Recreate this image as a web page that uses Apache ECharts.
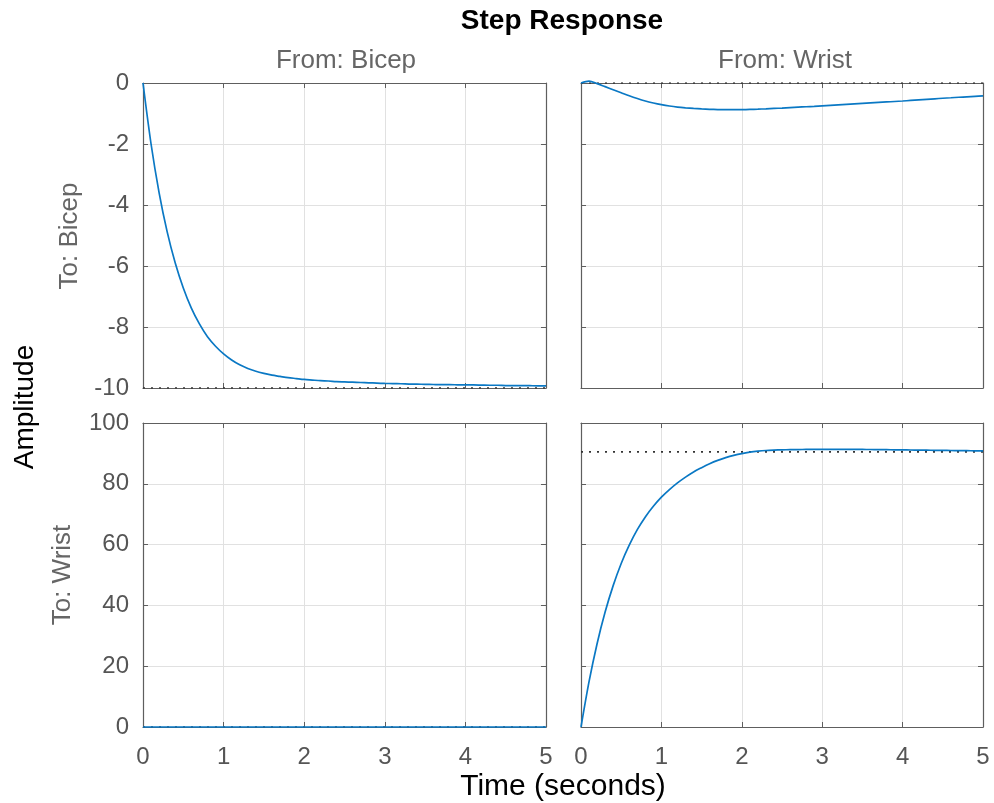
<!DOCTYPE html>
<html>
<head>
<meta charset="utf-8">
<script src="https://cdn.jsdelivr.net/npm/echarts@6/dist/echarts.min.js"></script>
<style>
html,body{margin:0;padding:0;background:#fff;}
#chart{width:994px;height:803px;}
</style>
</head>
<body>
<div id="chart"></div>
<script>
// ---- data ----
const titleText = 'Step Response';
const inputNames = ['From: Bicep', 'From: Wrist'];
const outputNames = ['To: Bicep', 'To: Wrist'];

// common time samples (seconds), 0 .. 5 every 0.1
const timeS = [0,0.1,0.2,0.3,0.4,0.5,0.6,0.7,0.8,0.9,
  1.0,1.1,1.2,1.3,1.4,1.5,1.6,1.7,1.8,1.9,
  2.0,2.1,2.2,2.3,2.4,2.5,2.6,2.7,2.8,2.9,
  3.0,3.1,3.2,3.3,3.4,3.5,3.6,3.7,3.8,3.9,
  4.0,4.1,4.2,4.3,4.4,4.5,4.6,4.7,4.8,4.9,5.0];

// From Bicep -> To Bicep
const ampBB = [0,-2.0,-3.6,-4.88,-5.9,-6.72,-7.38,-7.9,-8.32,-8.63,
  -8.88,-9.08,-9.24,-9.36,-9.45,-9.52,-9.58,-9.62,-9.66,-9.69,
  -9.72,-9.74,-9.76,-9.77,-9.79,-9.8,-9.81,-9.82,-9.83,-9.84,
  -9.85,-9.855,-9.86,-9.87,-9.875,-9.88,-9.885,-9.89,-9.89,-9.895,
  -9.9,-9.9,-9.905,-9.91,-9.91,-9.92,-9.92,-9.92,-9.925,-9.93,-9.93];
const ssBB = -10;

// From Wrist -> To Bicep
const ampWB = [0,0.06,-0.02,-0.12,-0.22,-0.32,-0.42,-0.51,-0.59,-0.655,
  -0.71,-0.755,-0.79,-0.815,-0.835,-0.85,-0.862,-0.87,-0.874,-0.875,
  -0.873,-0.866,-0.857,-0.846,-0.834,-0.821,-0.807,-0.793,-0.779,-0.765,
  -0.75,-0.734,-0.718,-0.702,-0.686,-0.67,-0.654,-0.638,-0.622,-0.606,
  -0.59,-0.572,-0.554,-0.536,-0.518,-0.5,-0.484,-0.468,-0.452,-0.436,-0.42];
const ssWB = 0;

// From Bicep -> To Wrist
const timeBW = [0,1,2,3,4,5];
const ampBW  = [0,0,0,0,0,0];
const ssBW = 0;

// From Wrist -> To Wrist
const ampWW = [0,14.9,27.4,37.8,46.5,53.8,59.8,64.9,69.1,72.6,
  75.6,78.1,80.3,82.2,83.9,85.3,86.6,87.7,88.6,89.35,
  89.95,90.4,90.72,90.95,91.08,91.17,91.23,91.27,91.3,91.32,
  91.33,91.33,91.33,91.32,91.31,91.3,91.28,91.25,91.22,91.19,
  91.15,91.12,91.08,91.05,91.01,90.98,90.95,90.92,90.89,90.86,90.83];
const ssWW = 90.5;

// ---- chart ----
const FONT = '"Liberation Sans", Arial, Helvetica, sans-serif';
const grids = [
  {left: 143, top: 83, width: 403, height: 305},
  {left: 581, top: 83, width: 402, height: 305},
  {left: 143, top: 423, width: 403, height: 304},
  {left: 581, top: 423, width: 402, height: 304}
];
const yRanges = [
  {min: -10, max: 0, interval: 2},
  {min: -10, max: 0, interval: 2},
  {min: 0, max: 100, interval: 20},
  {min: 0, max: 100, interval: 20}
];
const lineCol = '#5e5e5e';
const gridCol = '#e1e1e1';
const labelCol = '#555555';

const xAxes = [], yAxes = [];
grids.forEach((g, i) => {
  const showX = i >= 2;
  const showY = (i % 2) === 0;
  xAxes.push({
    type: 'value', gridIndex: i, min: 0, max: 5, interval: 1, position: 'bottom',
    axisLine: {show: true, onZero: false, lineStyle: {color: lineCol, width: 1.2}},
    axisTick: {show: true, inside: true, length: 5, lineStyle: {color: lineCol}},
    splitLine: {show: true, lineStyle: {color: gridCol, width: 1}},
    axisLabel: {show: showX, color: labelCol, fontSize: 24, fontFamily: FONT, margin: 18,
      showMinLabel: true, showMaxLabel: true}
  });
  xAxes.push({
    type: 'value', gridIndex: i, min: 0, max: 5, interval: 1, position: 'top',
    axisLine: {show: true, onZero: false, lineStyle: {color: lineCol, width: 1.2}},
    axisTick: {show: true, inside: true, length: 5, lineStyle: {color: lineCol}},
    splitLine: {show: false}, axisLabel: {show: false}
  });
  const r = yRanges[i];
  yAxes.push({
    type: 'value', gridIndex: i, min: r.min, max: r.max, interval: r.interval, position: 'left',
    axisLine: {show: true, onZero: false, lineStyle: {color: lineCol, width: 1.2}},
    axisTick: {show: true, inside: true, length: 5, lineStyle: {color: lineCol}},
    splitLine: {show: true, lineStyle: {color: gridCol, width: 1}},
    axisLabel: {show: showY, color: labelCol, fontSize: 24, fontFamily: FONT, margin: 14}
  });
  yAxes.push({
    type: 'value', gridIndex: i, min: r.min, max: r.max, interval: r.interval, position: 'right',
    axisLine: {show: true, onZero: false, lineStyle: {color: lineCol, width: 1.2}},
    axisTick: {show: true, inside: true, length: 5, lineStyle: {color: lineCol}},
    splitLine: {show: false}, axisLabel: {show: false}
  });
});

function pairs(t, v) { return t.map((x, k) => [x, v[k]]); }
const curves = [
  {t: timeS, v: ampBB, ss: ssBB},
  {t: timeS, v: ampWB, ss: ssWB},
  {t: timeBW, v: ampBW, ss: ssBW},
  {t: timeS, v: ampWW, ss: ssWW}
];
const series = [];
curves.forEach((c, i) => {
  series.push({
    type: 'line', xAxisIndex: 2 * i, yAxisIndex: 2 * i, silent: true,
    data: [[0, c.ss], [5, c.ss]], showSymbol: false, symbol: 'none',
    lineStyle: {color: '#333333', width: 1.6, type: [2, 6]}, z: 3
  });
  series.push({
    type: 'line', xAxisIndex: 2 * i, yAxisIndex: 2 * i, silent: true,
    data: pairs(c.t, c.v), showSymbol: false, symbol: 'none',
    smooth: 0.3, clip: false,
    lineStyle: {color: '#0a78c4', width: 1.7}, z: 4
  });
});

const graphics = [
  {type: 'text', x: 562, y: 21, style: {text: titleText, textAlign: 'center', textVerticalAlign: 'middle',
    font: 'bold 28px ' + FONT, fill: '#000'}},
  {type: 'text', x: 346, y: 61, style: {text: inputNames[0], textAlign: 'center', textVerticalAlign: 'middle',
    font: '26px ' + FONT, fill: '#666'}},
  {type: 'text', x: 785, y: 61, style: {text: inputNames[1], textAlign: 'center', textVerticalAlign: 'middle',
    font: '26px ' + FONT, fill: '#666'}},
  {type: 'text', x: 70, y: 236, rotation: Math.PI / 2, style: {text: outputNames[0], textAlign: 'center', textVerticalAlign: 'middle',
    font: '26px ' + FONT, fill: '#666'}},
  {type: 'text', x: 63, y: 575, rotation: Math.PI / 2, style: {text: outputNames[1], textAlign: 'center', textVerticalAlign: 'middle',
    font: '26px ' + FONT, fill: '#666'}},
  {type: 'text', x: 25, y: 407, rotation: Math.PI / 2, style: {text: 'Amplitude', textAlign: 'center', textVerticalAlign: 'middle',
    font: '28px ' + FONT, fill: '#000'}},
  {type: 'text', x: 563, y: 787, style: {text: 'Time (seconds)', textAlign: 'center', textVerticalAlign: 'middle',
    font: '30px ' + FONT, fill: '#000'}}
];

const chart = echarts.init(document.getElementById('chart'), null, {renderer: 'canvas'});
chart.setOption({
  backgroundColor: '#ffffff',
  animation: false,
  grid: grids.map(g => Object.assign({containLabel: false}, g)),
  xAxis: xAxes,
  yAxis: yAxes,
  series: series,
  graphic: graphics
});
</script>
</body>
</html>
